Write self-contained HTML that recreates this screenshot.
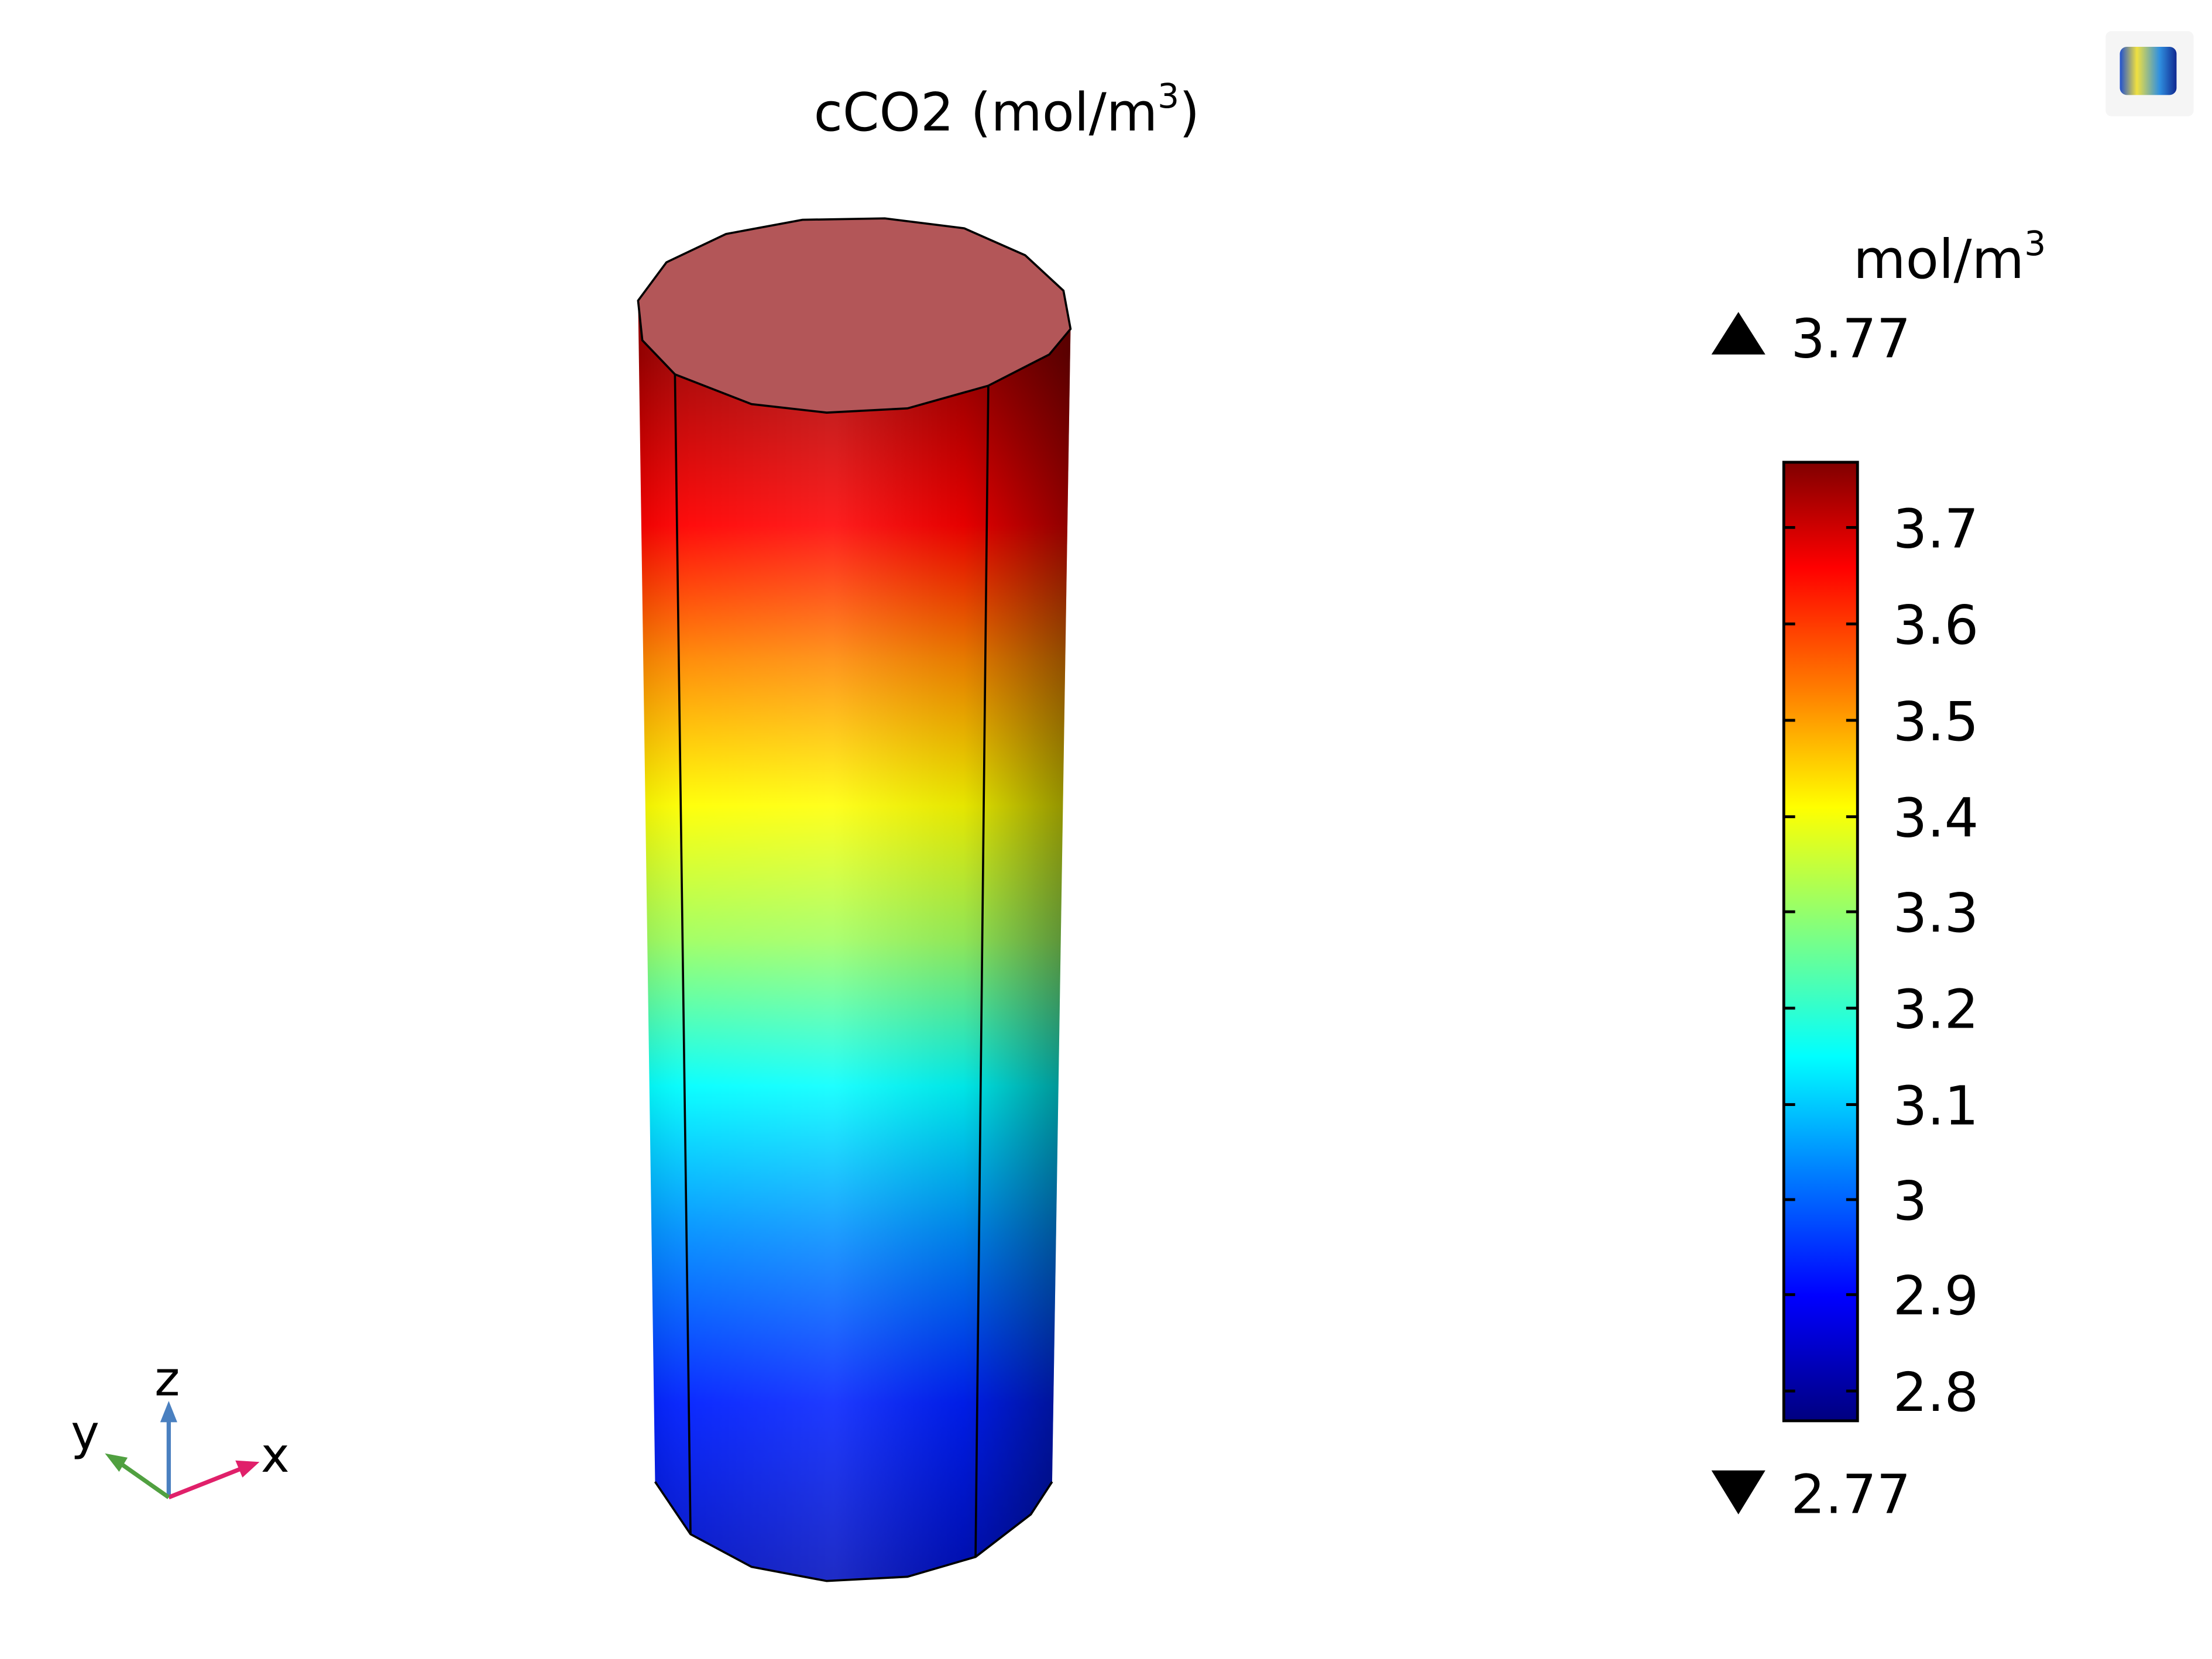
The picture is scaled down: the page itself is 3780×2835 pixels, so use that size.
<!DOCTYPE html>
<html><head><meta charset="utf-8"><style>
html,body{margin:0;padding:0;background:#fff;width:3780px;height:2835px;overflow:hidden}
svg{display:block}
text{font-family:"DejaVu Sans","Liberation Sans",sans-serif;fill:#000}
</style></head><body>
<svg width="3780" height="2835" viewBox="0 0 1560 1170" xmlns="http://www.w3.org/2000/svg">
<defs>
<linearGradient id="jet" x1="0" y1="0" x2="0" y2="1">
<stop offset="0" stop-color="#800000"/>
<stop offset="0.11" stop-color="#ff0000"/>
<stop offset="0.24" stop-color="#ff8000"/>
<stop offset="0.36" stop-color="#ffff00"/>
<stop offset="0.49" stop-color="#80ff80"/>
<stop offset="0.62" stop-color="#00ffff"/>
<stop offset="0.74" stop-color="#0080ff"/>
<stop offset="0.87" stop-color="#0000ff"/>
<stop offset="1" stop-color="#000080"/>
</linearGradient>
<linearGradient id="cyl" gradientUnits="userSpaceOnUse" x1="0" y1="250" x2="0" y2="1110">
<stop offset="0" stop-color="#a00000"/>
<stop offset="0.14" stop-color="#ff0000"/>
<stop offset="0.25" stop-color="#ff8800"/>
<stop offset="0.37" stop-color="#ffff00"/>
<stop offset="0.48" stop-color="#a0ff60"/>
<stop offset="0.6" stop-color="#00ffff"/>
<stop offset="0.72" stop-color="#0090ff"/>
<stop offset="0.86" stop-color="#0020ff"/>
<stop offset="1" stop-color="#0010c0"/>
</linearGradient>
<linearGradient id="shade" gradientUnits="userSpaceOnUse" x1="450" y1="0" x2="756" y2="0">
<stop offset="0" stop-color="#000" stop-opacity="0.08"/>
<stop offset="0.12" stop-color="#fff" stop-opacity="0.05"/>
<stop offset="0.45" stop-color="#fff" stop-opacity="0.12"/>
<stop offset="0.75" stop-color="#000" stop-opacity="0.1"/>
<stop offset="1" stop-color="#000" stop-opacity="0.45"/>
</linearGradient>
<linearGradient id="icon" x1="0" y1="0" x2="1" y2="0">
<stop offset="0" stop-color="#2050d0"/><stop offset="0.3" stop-color="#f0e040"/><stop offset="0.7" stop-color="#3090e0"/><stop offset="1" stop-color="#102890"/>
</linearGradient>
</defs>
<!-- title -->
<text x="710" y="92" font-size="37" text-anchor="middle">cCO2 (mol/m<tspan font-size="24" dy="-16">3</tspan><tspan dy="16">)</tspan></text>
<!-- cylinder body -->
<path d="M450,212 L755,232 L742,1045 L727,1068 L688,1098 L640,1112 L583,1115 L530,1105 L487,1082 L462,1045 Z" fill="url(#cyl)"/>
<path d="M450,212 L755,232 L742,1045 L727,1068 L688,1098 L640,1112 L583,1115 L530,1105 L487,1082 L462,1045 Z" fill="url(#shade)"/>
<path d="M462,1045 L487,1082 L530,1105 L583,1115 L640,1112 L688,1098 L727,1068 L742,1045" fill="none" stroke="#000" stroke-width="1.5"/>
<line x1="476" y1="264" x2="487" y2="1082" stroke="#000" stroke-width="1.5"/>
<line x1="697" y1="272" x2="688" y2="1098" stroke="#000" stroke-width="1.5"/>
<!-- top face -->
<path d="M450,212 L470,185 L512,165 L566,155 L624,154 L680,161 L723,180 L750,205 L755,232 L740,250 L697,272 L640,288 L583,291 L530,285 L476,264 L453,240 Z" fill="#b35658" stroke="#000" stroke-width="1.5"/>
<!-- colorbar -->
<rect x="1258" y="326" width="52" height="676" fill="url(#jet)" stroke="#000" stroke-width="2"/>
<g stroke="#000" stroke-width="2">
<line x1="1258" y1="372" x2="1266" y2="372"/><line x1="1302" y1="372" x2="1310" y2="372"/>
<line x1="1258" y1="440" x2="1266" y2="440"/><line x1="1302" y1="440" x2="1310" y2="440"/>
<line x1="1258" y1="508" x2="1266" y2="508"/><line x1="1302" y1="508" x2="1310" y2="508"/>
<line x1="1258" y1="576" x2="1266" y2="576"/><line x1="1302" y1="576" x2="1310" y2="576"/>
<line x1="1258" y1="643" x2="1266" y2="643"/><line x1="1302" y1="643" x2="1310" y2="643"/>
<line x1="1258" y1="711" x2="1266" y2="711"/><line x1="1302" y1="711" x2="1310" y2="711"/>
<line x1="1258" y1="779" x2="1266" y2="779"/><line x1="1302" y1="779" x2="1310" y2="779"/>
<line x1="1258" y1="846" x2="1266" y2="846"/><line x1="1302" y1="846" x2="1310" y2="846"/>
<line x1="1258" y1="913" x2="1266" y2="913"/><line x1="1302" y1="913" x2="1310" y2="913"/>
<line x1="1258" y1="981" x2="1266" y2="981"/><line x1="1302" y1="981" x2="1310" y2="981"/>
</g>
<g font-size="38">
<text x="1335" y="386">3.7</text><text x="1335" y="454">3.6</text><text x="1335" y="522">3.5</text>
<text x="1335" y="590">3.4</text><text x="1335" y="657">3.3</text><text x="1335" y="725">3.2</text>
<text x="1335" y="793">3.1</text><text x="1335" y="860">3</text><text x="1335" y="927">2.9</text>
<text x="1335" y="995">2.8</text>
</g>
<text x="1307" y="196" font-size="38">mol/m<tspan font-size="24" dy="-16">3</tspan></text>
<polygon points="1207,250 1245,250 1226,220" fill="#000"/>
<text x="1263" y="252" font-size="38">3.77</text>
<polygon points="1207,1037 1245,1037 1226,1068" fill="#000"/>
<text x="1263" y="1067" font-size="38">2.77</text>
<!-- triad -->
<g stroke-width="3" fill="none">
<line x1="119" y1="1056" x2="119" y2="998" stroke="#4a80c0"/>
<line x1="119" y1="1056" x2="172" y2="1035" stroke="#e0206a"/>
<line x1="119" y1="1056" x2="82" y2="1030" stroke="#50a040"/>
</g>
<polygon points="119,988 113,1003 125,1003" fill="#4a80c0"/>
<polygon points="183,1031 166,1030 171,1042" fill="#e0206a"/>
<polygon points="74,1025 84,1038 90,1028" fill="#50a040"/>
<text x="109" y="984" font-size="34">z</text>
<text x="184" y="1038" font-size="34">x</text>
<text x="50" y="1022" font-size="34">y</text>
<!-- icon -->
<rect x="1485" y="22" width="62" height="60" fill="#eee" opacity="0.6" rx="4"/>
<rect x="1495" y="33" width="40" height="34" rx="5" fill="url(#icon)"/>
</svg>
</body></html>
